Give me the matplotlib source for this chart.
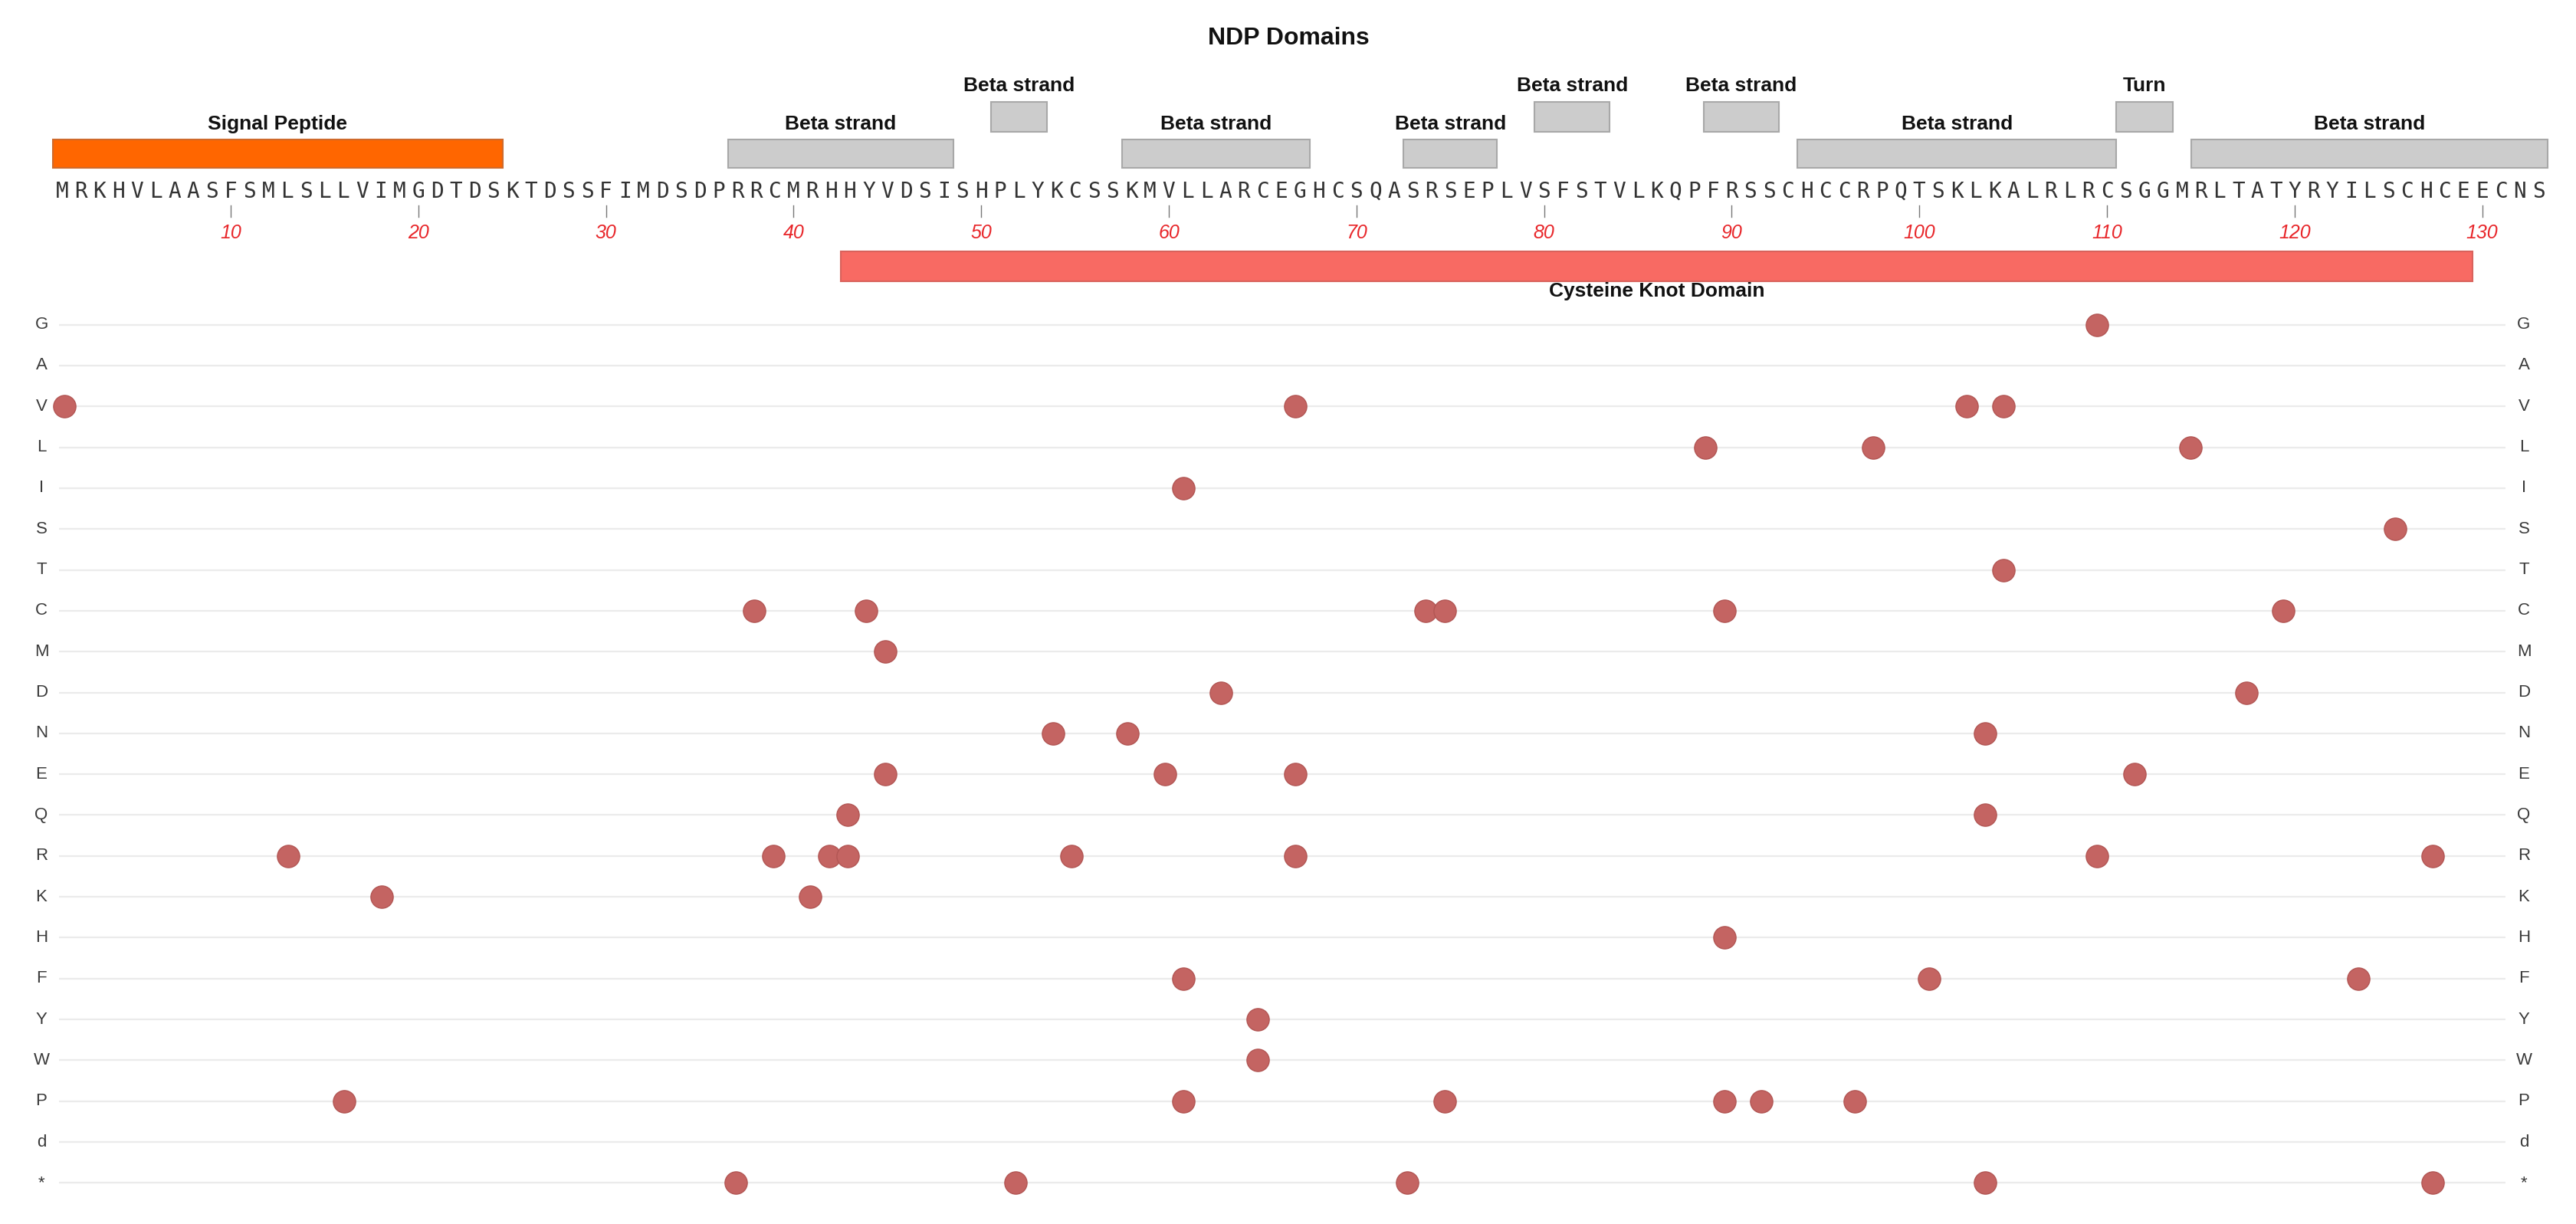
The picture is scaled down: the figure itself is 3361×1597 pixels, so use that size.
import matplotlib
matplotlib.use("Agg")
import matplotlib.pyplot as plt
import matplotlib.transforms as mtransforms

# protein sequence (NDP / norrin)
SEQUENCE = ("MRKHVLAASFSMLSLLVIMGDTDSKTDSSFIMDSDPRRCMRHHYVDSISHPLYKCSSKMVLLARCEGHC"
            "SQASRSEPLVSFSTVLKQPFRSSCHCCRPQTSKLKALRLRCSGGMRLTATYRYILSCHCEECNS")

# domain annotations
dom_labels = ["Signal Peptide", "Beta strand", "Beta strand", "Beta strand", "Beta strand",
              "Beta strand", "Beta strand", "Beta strand", "Turn", "Beta strand",
              "Cysteine Knot Domain"]
dom_start = [1, 37, 51, 58, 73, 80, 89, 94, 111, 115, 43]
dom_end = [24, 48, 53, 67, 77, 83, 92, 110, 113, 133, 129]
dom_kind = ["signal", "beta", "beta", "beta", "beta", "beta", "beta", "beta", "turn", "beta", "knot"]
dom_level = ["low", "low", "up", "low", "low", "up", "up", "low", "up", "low", "below"]

tick_positions = list(range(10, 131, 10))

# substitution rows (top to bottom)
residues = ["G", "A", "V", "L", "I", "S", "T", "C", "M", "D", "N",
            "E", "Q", "R", "K", "H", "F", "Y", "W", "P", "d", "*"]

# variants: position and new residue
var_pos = [110,
           1, 67, 103, 105,
           89, 98, 115,
           61,
           126,
           105,
           38, 44, 74, 75, 90, 120,
           45,
           63, 118,
           54, 58, 104,
           45, 60, 67, 112,
           43, 104,
           13, 39, 42, 43, 55, 67, 110, 128,
           18, 41,
           90,
           61, 101, 124,
           65,
           65,
           16, 61, 75, 90, 92, 97,
           37, 52, 73, 104, 128]
var_aa = (["G"] + ["V"] * 4 + ["L"] * 3 + ["I"] + ["S"] + ["T"] + ["C"] * 6 + ["M"]
          + ["D"] * 2 + ["N"] * 3 + ["E"] * 4 + ["Q"] * 2 + ["R"] * 8 + ["K"] * 2
          + ["H"] + ["F"] * 3 + ["Y"] + ["W"] + ["P"] * 6 + ["*"] * 5)

FILL = {"signal": "#ff6600", "beta": "#cccccc", "turn": "#cccccc", "knot": "#f86a63"}
EDGE = {"signal": "#cf6a2c", "beta": "#a8a8a8", "turn": "#a8a8a8", "knot": "#d9625c"}
# (bar top, bar height, label y) in pixel rows of the top panel
LEVEL = {"low": (182, 37, 162), "up": (133, 39, 112), "below": (328, 39, 380)}

plt.rcParams["font.family"] = ["Liberation Sans", "DejaVu Sans"]

W, H = 3362, 1597
fig = plt.figure(figsize=(W / 100, H / 100), dpi=100)

# ---- top panel: domains + sequence ----
TOP_H = 400
ax_top = fig.add_axes([0, 1 - TOP_H / H, 1, TOP_H / H])
ax_top.set_xlim(-2.30, 135.04)
ax_top.set_ylim(TOP_H, 0)
ax_top.axis("off")

fig.text(0.5, 1 - 50 / H, "NDP Domains", ha="center", va="center",
         fontsize=23, fontweight="bold", color="#111111")

for lab, s, e, kind, lev in zip(dom_labels, dom_start, dom_end, dom_kind, dom_level):
    y0, h, ylab = LEVEL[lev]
    ax_top.bar(x=(s + e) / 2, height=h, width=e - s + 1, bottom=y0, color=FILL[kind],
               edgecolor=EDGE[kind], linewidth=1.5)
    ax_top.text((s + e) / 2, ylab, lab, ha="center", va="center",
                fontsize=19, fontweight="bold", color="#111111")

for i, ch in enumerate(SEQUENCE):
    ax_top.text(i + 1, 250, ch, ha="center", va="center", fontsize=20,
                family="DejaVu Sans Mono", color="#333333")

for t in tick_positions:
    ax_top.plot([t, t], [268, 283], color="#777777", lw=1)
    ax_top.text(t, 304, str(t), ha="center", va="center", fontsize=18,
                style="italic", color="#e8262a")

# ---- bottom panel: variant dots ----
left_px, right_px, top_px, bot_px = 77, 3269, 397, 1570
ax = fig.add_axes([left_px / W, 1 - bot_px / H, (right_px - left_px) / W, (bot_px - top_px) / H])
ax.set_xlim(0.712, 131.9)
ax.set_ylim(len(residues) - 0.5, -0.5)
ax.axis("off")

for i in range(len(residues)):
    ax.axhline(i, color="#ebebeb", lw=1.6, zorder=0)

ys = [residues.index(a) for a in var_aa]
ax.plot(var_pos, ys, "o", ms=21, color="#c46462", mec="#b25654", mew=1,
        zorder=3, clip_on=False)

trans = mtransforms.blended_transform_factory(ax.transAxes, ax.transData)
for i, aa in enumerate(residues):
    ax.text(-0.0072, i, aa, transform=trans, ha="center", va="center",
            fontsize=16, color="#3a3a3a")
    ax.text(1.0075, i, aa, transform=trans, ha="center", va="center",
            fontsize=16, color="#3a3a3a")

fig.savefig("out.png", dpi=100, facecolor="white")
